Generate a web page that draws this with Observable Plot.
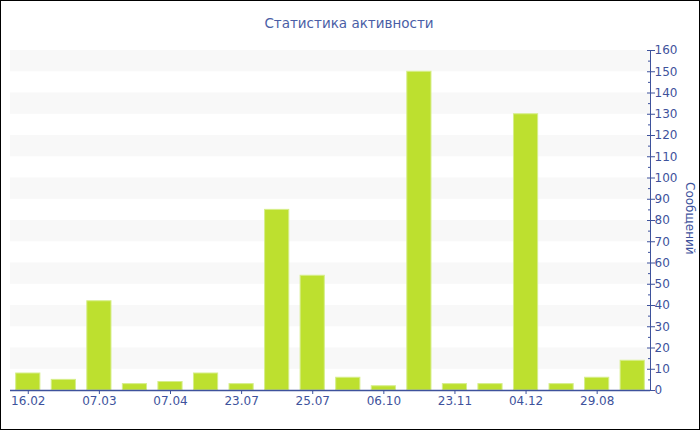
<!DOCTYPE html>
<html>
<head>
<meta charset="utf-8">
<script src="https://cdn.jsdelivr.net/npm/d3@7"></script>
<script src="https://cdn.jsdelivr.net/npm/@observablehq/plot@0.6"></script>
<style>
  html, body { margin: 0; padding: 0; background: #fff; }
  #wrap { position: relative; width: 700px; height: 430px; overflow: hidden; font-family: "DejaVu Sans", Verdana, sans-serif; }
  #border { position: absolute; left: 0; top: 0; width: 700px; height: 430px; box-sizing: border-box; border: 1px solid #000; pointer-events: none; }
  #title { position: absolute; left: 0; top: 15px; width: 698px; text-align: center; font-size: 13.5px; color: #4a5ea6; }
  #ylabel { position: absolute; left: 683px; top: 182px; writing-mode: vertical-rl; font-size: 12px; color: #3e529c; }
  #chart { position: absolute; left: 0; top: 0; }
</style>
</head>
<body>
<div id="wrap">
  <div id="chart"></div>
  <div id="title">Статистика активности</div>
  <div id="ylabel">Сообщений</div>
  <div id="border"></div>
</div>
<script>
const dateLabels = ["16.02", "07.03", "07.04", "23.07", "25.07", "06.10", "23.11", "04.12", "29.08"];
const messages = [8, 5, 42, 3, 4, 8, 3, 85, 54, 6, 2, 150, 3, 3, 130, 3, 6, 14];
const yMajor = d3.range(0, 161, 10);
const yMinor = d3.range(5, 160, 10);
const stripeStarts = d3.range(10, 160, 20);

const data = messages.map((v, i) => ({i, v}));
const stripes = stripeStarts.map(s => ({y1: s, y2: s + 10}));
const ink = "#3e529c";

const chart = Plot.plot({
  width: 700,
  height: 430,
  marginLeft: 10,
  marginRight: 50,
  marginTop: 50,
  marginBottom: 40,
  style: {fontFamily: "DejaVu Sans, Verdana, sans-serif", fontSize: "11px", color: ink, background: "transparent"},
  x: {type: "band", domain: d3.range(messages.length), paddingInner: 0.32, paddingOuter: 0.16, round: false},
  y: {domain: [0, 160]},
  marks: [
    Plot.rect(stripes, {y1: "y1", y2: "y2", fill: "#f8f8f8"}),
    Plot.barY(data, {x: "i", y: "v", fill: "#bde02f", stroke: "#d6ee8a", strokeWidth: 1}),
    Plot.ruleY([0], {stroke: ink, strokeWidth: 1.5}),
    Plot.frame({anchor: "right", stroke: ink}),
    Plot.axisX({
      ticks: d3.range(0, messages.length, 2),
      tickFormat: i => dateLabels[i / 2],
      tickSize: 4,
      tickPadding: 2,
      label: null,
      stroke: ink,
      fill: ink,
      fontSize: 12
    }),
    Plot.axisY({anchor: "right", ticks: yMajor, tickSize: 8, dx: -4, text: null, label: null, stroke: ink}),
    Plot.axisY({anchor: "right", ticks: yMinor, tickSize: 3, dx: -3, text: null, label: null, stroke: ink}),
    Plot.axisY({anchor: "right", ticks: yMajor, tickSize: 0, tickPadding: 4, label: null, fill: ink, fontSize: 12})
  ]
});
document.getElementById("chart").appendChild(chart);
</script>
</body>
</html>
